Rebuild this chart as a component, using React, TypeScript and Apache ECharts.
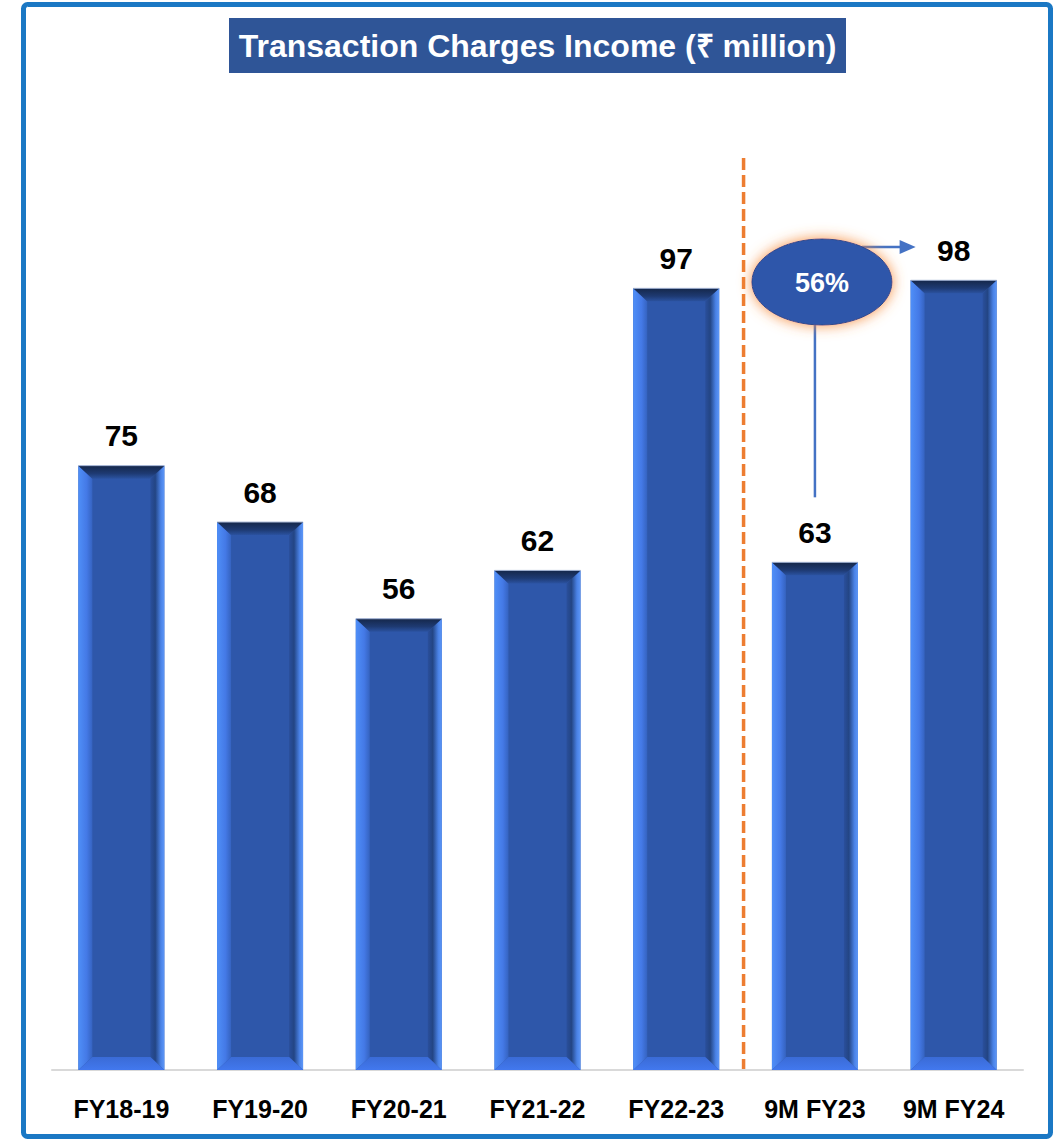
import React, { useEffect, useRef } from "react";
import * as echarts from "echarts";

const categories = ["FY18-19", "FY19-20", "FY20-21", "FY21-22", "FY22-23", "9M FY23", "9M FY24"];
const values = [75, 68, 56, 62, 97, 63, 98];
const titleText = "Transaction Charges Income (₹ million)";
const growthText = "56%";

const FONT = "'Liberation Sans', Arial, sans-serif";

export default function App() {
  const ref = useRef<HTMLDivElement>(null);
  useEffect(() => {
    if (!ref.current) return;
    const chart = echarts.init(ref.current, null, { renderer: "svg" });

    const renderItem = (params: any, api: any) => {
      const idx = api.value(0);
      const val = api.value(1);
      const top = api.coord([idx, val]);
      const base = api.coord([idx, 0]);
      const w = api.size([1, 0])[0] * 0.62;
      const x0 = top[0] - w / 2;
      const x1 = top[0] + w / 2;
      const y0 = top[1];
      const y1 = base[1];
      const b = 14;
      const bt = 13;
      const bb = 13;
      const face = "#2e57aa";
      return {
        type: "group",
        children: [
          {
            type: "rect",
            shape: { x: x0, y: y0, width: w, height: y1 - y0 },
            style: { fill: face },
          },
          {
            type: "polygon",
            shape: { points: [[x0, y0], [x0 + b, y0 + bt], [x0 + b, y1 - bb], [x0, y1]] },
            style: {
              fill: new echarts.graphic.LinearGradient(0, 0, 1, 0, [
                { offset: 0, color: "#4f8ff8" },
                { offset: 0.6, color: "#4479e6" },
                { offset: 1, color: "#3563c0" },
              ]),
            },
          },
          {
            type: "polygon",
            shape: { points: [[x1, y0], [x1, y1], [x1 - b, y1 - bb], [x1 - b, y0 + bt]] },
            style: {
              fill: new echarts.graphic.LinearGradient(0, 0, 1, 0, [
                { offset: 0, color: "#2a4f9c" },
                { offset: 0.35, color: "#234584" },
                { offset: 0.75, color: "#4a82e6" },
                { offset: 1, color: "#5d97f8" },
              ]),
            },
          },
          {
            type: "polygon",
            shape: { points: [[x0, y1], [x1, y1], [x1 - b, y1 - bb], [x0 + b, y1 - bb]] },
            style: {
              fill: new echarts.graphic.LinearGradient(0, 0, 0, 1, [
                { offset: 0, color: "#3a6bd6" },
                { offset: 1, color: "#4278ee" },
              ]),
            },
          },
          {
            type: "polygon",
            shape: { points: [[x0, y0], [x1, y0], [x1 - b, y0 + bt], [x0 + b, y0 + bt]] },
            style: {
              fill: new echarts.graphic.LinearGradient(0, 0, 0, 1, [
                { offset: 0, color: "#15274a" },
                { offset: 0.6, color: "#1e3a72" },
                { offset: 1, color: "#2b52a0" },
              ]),
            },
          },
          {
            type: "line",
            shape: { x1: x0, y1: y0, x2: x1, y2: y0 },
            style: { stroke: "#a9b8d6", lineWidth: 1 },
          },
          {
            type: "text",
            x: top[0],
            y: y0 - 30,
            style: {
              text: String(val),
              fill: "#000000",
              font: `bold 30px ${FONT}`,
              align: "center",
              verticalAlign: "middle",
            },
          },
        ],
      };
    };

    chart.setOption({
      animation: false,
      backgroundColor: "#ffffff",
      grid: { left: 52, right: 38, top: 103, bottom: 70 },
      xAxis: {
        type: "category",
        data: categories,
        axisLine: { lineStyle: { color: "#d9d9d9", width: 2 } },
        axisTick: { show: false },
        axisLabel: {
          color: "#000000",
          fontWeight: "bold",
          fontSize: 25,
          fontFamily: FONT,
          margin: 26,
        },
      },
      yAxis: {
        type: "value",
        min: 0,
        max: 120,
        show: false,
        splitLine: { show: false },
      },
      series: [
        {
          type: "custom",
          renderItem,
          data: categories.map((c, i) => [i, values[i]]),
          encode: { x: 0, y: 1 },
          clip: false,
        },
      ],
    });

    const px = (i: number, v: number) =>
      chart.convertToPixel({ gridIndex: 0 }, [i, v]) as number[];
    const p5 = px(4, 0);
    const p6 = px(5, values[5]);
    const p7 = px(6, values[6]);
    const dashX = (p5[0] + p6[0]) / 2 - 2;
    const ellCx = p6[0] + 7;
    const ellCy = 282;

    chart.setOption({
      graphic: [
        {
          type: "rect",
          shape: { x: 23.5, y: 4.5, width: 1027, height: 1132, r: 4 },
          style: { fill: "none", stroke: "#1b78c4", lineWidth: 5 },
          z: 10,
        },
        {
          type: "rect",
          shape: { x: 229, y: 18, width: 617, height: 55 },
          style: { fill: "#2f5597" },
        },
        {
          type: "text",
          x: 537.5,
          y: 46,
          style: {
            text: titleText,
            fill: "#ffffff",
            font: `bold 32px ${FONT}`,
            align: "center",
            verticalAlign: "middle",
          },
        },
        {
          type: "line",
          shape: { x1: dashX, y1: 158, x2: dashX, y2: 1073 },
          style: { stroke: "#ed7d31", lineWidth: 3.5, lineDash: [12, 5] },
        },
        {
          type: "line",
          shape: { x1: p6[0], y1: ellCy + 40, x2: p6[0], y2: p6[1] - 65 },
          style: { stroke: "#4472c4", lineWidth: 2.5 },
        },
        {
          type: "line",
          shape: { x1: ellCx + 40, y1: 247, x2: p7[0] - 52, y2: 247 },
          style: { stroke: "#4472c4", lineWidth: 2.5 },
        },
        {
          type: "polygon",
          shape: {
            points: [
              [p7[0] - 54, 240],
              [p7[0] - 38, 247],
              [p7[0] - 54, 254],
            ],
          },
          style: { fill: "#4472c4" },
        },
        {
          type: "ellipse",
          shape: { cx: ellCx, cy: ellCy, rx: 70, ry: 43 },
          style: {
            fill: "#2e57aa",
            stroke: "#2a4a8a",
            lineWidth: 1,
            shadowBlur: 14,
            shadowColor: "rgba(246,140,60,0.95)",
          },
        },
        {
          type: "text",
          x: ellCx,
          y: ellCy + 1,
          style: {
            text: growthText,
            fill: "#ffffff",
            font: `bold 27px ${FONT}`,
            align: "center",
            verticalAlign: "middle",
          },
        },
      ],
    });

    return () => chart.dispose();
  }, []);

  return (
    <div
      ref={ref}
      style={{ position: "absolute", left: 0, top: 0, width: 1061, height: 1140 }}
    />
  );
}
